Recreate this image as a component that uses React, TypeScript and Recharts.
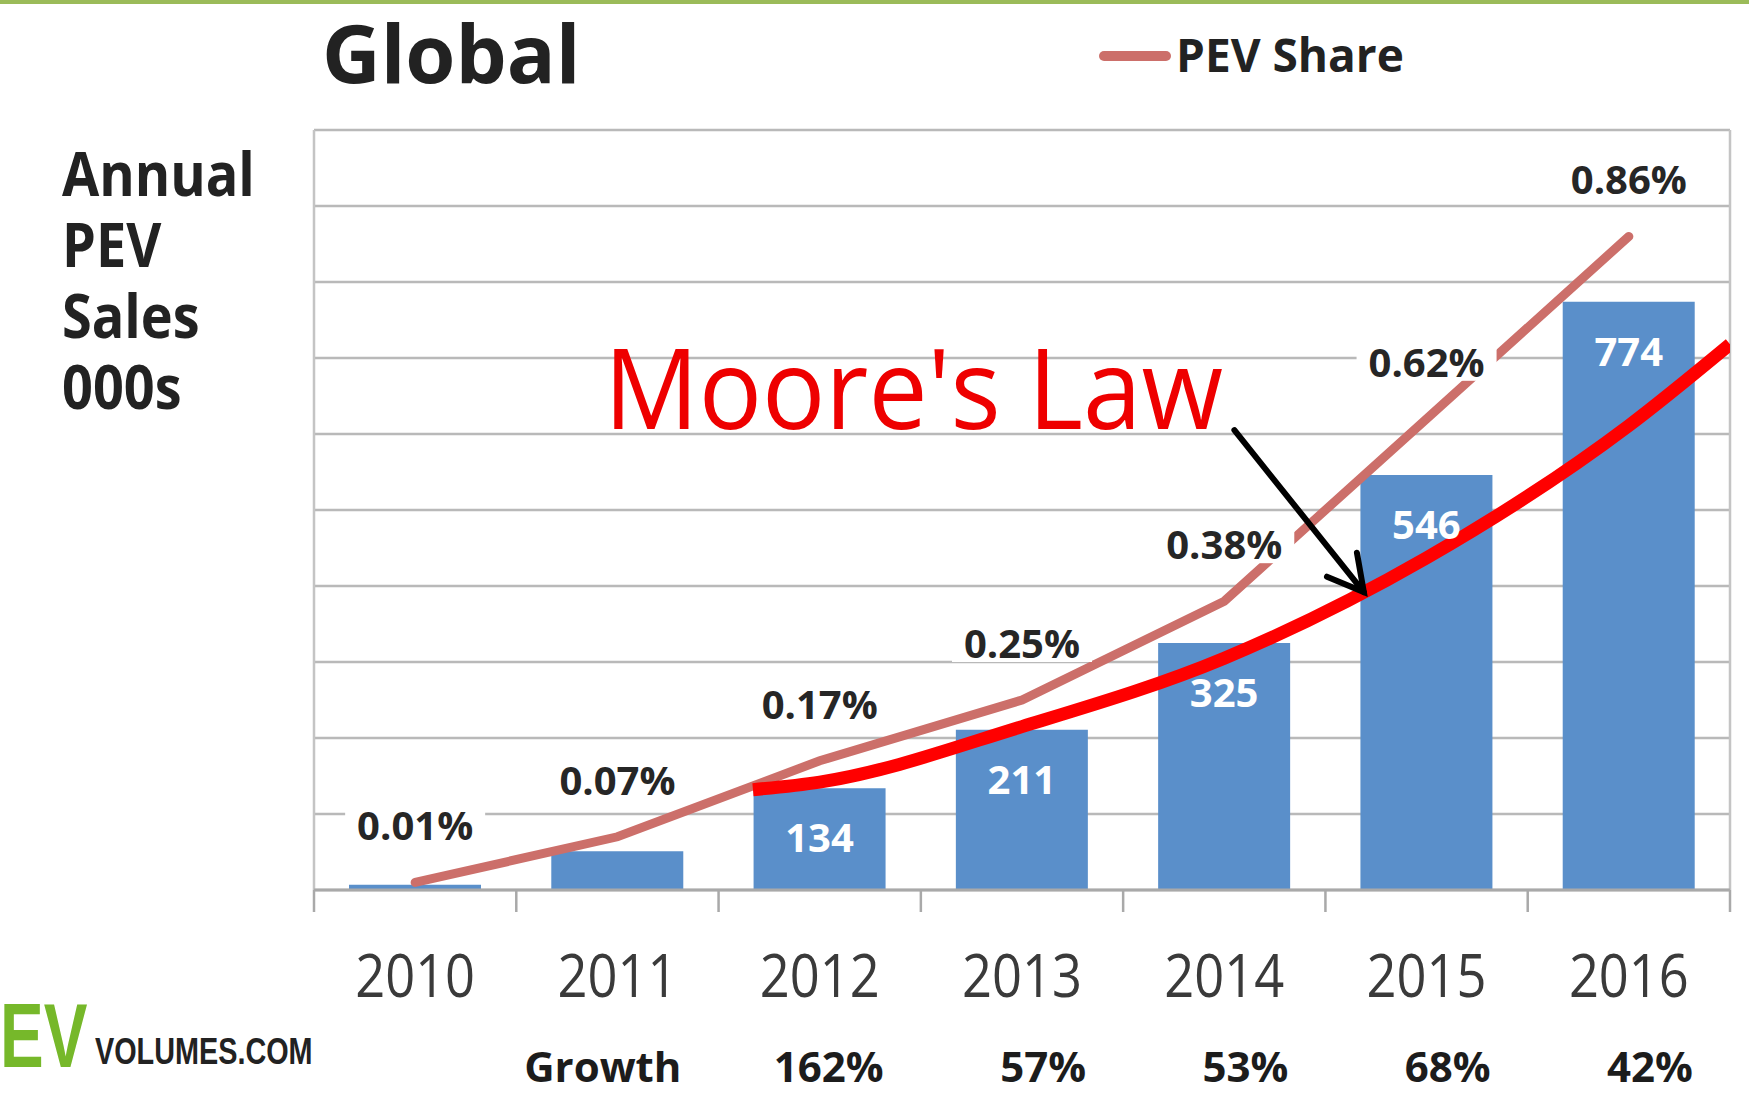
import React from "react"
import { Bar, CartesianGrid, ComposedChart, LabelList, Line, ReferenceLine, XAxis, YAxis } from "recharts"

const years = [2010, 2011, 2012, 2013, 2014, 2015, 2016]
const sales = [7, 51, 134, 211, 325, 546, 774]
const pevShare = [0.01, 0.07, 0.17, 0.25, 0.38, 0.62, 0.86]
const growthRow = ["", "Growth", "162%", "57%", "53%", "68%", "42%"]

const mooreYears = [2011.67, 2012, 2013, 2014, 2015, 2016, 2016.5]
const mooreSales = [132, 142, 215, 305, 437, 611, 718]

const salesTicks = [0, 100, 200, 300, 400, 500, 600, 700, 800, 900, 1000]
const yearEdges = [2009.5, 2010.5, 2011.5, 2012.5, 2013.5, 2014.5, 2015.5, 2016.5]
const axisTitle = ["Annual", "PEV", "Sales", "000s"]

const arrowFrom = { x: 2014.05, y: 605 }
const arrowTo = { x: 2014.69, y: 392 }

const data = years.map((year, i) => ({ year: String(year), sales: sales[i], share: pevShare[i] }))
const mooreData = mooreYears.map((x, i) => ({ x, moore: mooreSales[i] }))

const FONT = "'Open Sans', 'Noto Sans', sans-serif"
const BLUE = "#5a8fca"
const ROSE = "#cc6f6a"
const GRID = "#b9b9b9"

function NoTick() {
  return <g />
}

function YearTick(props: any) {
  const { x, y, payload } = props
  const i = years.indexOf(Number(payload.value))
  return (
    <g>
      <g transform={`translate(${x},${y + 85}) scale(0.86,1)`}>
        <text x={0} y={0} textAnchor="middle" fontSize={61} fill="#3a3a3a" fontFamily={FONT}>
          {payload.value}
        </text>
      </g>
      <text x={x + 64} y={y + 170} textAnchor="end" fontSize={42} fontWeight={700} fill="#1c1c1c" fontFamily={FONT}>
        {growthRow[i]}
      </text>
    </g>
  )
}

function ShareBox(props: any) {
  const { x, y } = props
  return <rect x={x - 70} y={y - 76} width={140} height={38} fill="#fff" />
}

function ShareLabel(props: any) {
  const { x, y, value } = props
  return (
    <text x={x} y={y - 42} textAnchor="middle" fontSize={40} fontWeight={700} fill="#262626" fontFamily={FONT}>
      {`${Number(value).toFixed(2)}%`}
    </text>
  )
}

function SalesLabel(props: any) {
  const { x, y, width, value } = props
  if (value < 100) return null
  return (
    <text x={x + width / 2} y={y + 64} textAnchor="middle" fontSize={40} fontWeight={700} fill="#fff" fontFamily={FONT}>
      {value}
    </text>
  )
}

function Arrow(props: any) {
  const { x1, y1, x2, y2 } = props
  const a = Math.atan2(y2 - y1, x2 - x1)
  const len = 40
  const spread = 0.5
  const p1 = [x2 - len * Math.cos(a - spread), y2 - len * Math.sin(a - spread)]
  const p2 = [x2 - len * Math.cos(a + spread), y2 - len * Math.sin(a + spread)]
  return (
    <g stroke="#000" strokeWidth={6} fill="none" strokeLinecap="round">
      <line x1={x1} y1={y1} x2={x2} y2={y2} />
      <polyline points={`${p1[0]},${p1[1]} ${x2},${y2} ${p2[0]},${p2[1]}`} strokeLinejoin="miter" />
    </g>
  )
}

export default function App() {
  return (
    <div style={{ position: "absolute", left: 0, top: 0, width: 1749, height: 1095, background: "#fff", overflow: "hidden" }}>
      <div style={{ position: "absolute", left: 0, top: 0, width: 1749, height: 4, background: "#9bbb59" }} />
      <ComposedChart width={1749} height={1095} data={data} margin={{ top: 130, right: 19, bottom: 0, left: 314 }}>
        <CartesianGrid yAxisId="sales" xAxisId="bound" vertical={false} stroke={GRID} strokeWidth={2.5} />
        <XAxis
          xAxisId="bound"
          dataKey="x"
          type="number"
          domain={[2009.5, 2016.5]}
          allowDataOverflow
          ticks={yearEdges}
          interval={0}
          tick={NoTick}
          height={22}
          tickSize={22}
          axisLine={{ stroke: "#a9a9a9", strokeWidth: 3 }}
          tickLine={{ stroke: "#a9a9a9", strokeWidth: 2.5 }}
        />
        <XAxis
          xAxisId="cat"
          dataKey="year"
          height={183}
          axisLine={false}
          tickLine={false}
          tickSize={0}
          tickMargin={0}
          interval={0}
          tick={<YearTick />}
        />
        <YAxis
          yAxisId="sales"
          domain={[0, 1000]}
          ticks={salesTicks}
          interval={0}
          width={0}
          tick={NoTick}
          axisLine={false}
          tickLine={false}
        />
        <YAxis yAxisId="share" orientation="right" domain={[0, 1]} width={0} tick={NoTick} axisLine={false} tickLine={false} />
        <ReferenceLine xAxisId="bound" yAxisId="sales" x={2009.5} stroke="#c4c4c4" strokeWidth={2.5} />
        <ReferenceLine xAxisId="bound" yAxisId="sales" x={2016.5} stroke="#c4c4c4" strokeWidth={2.5} />
        <Bar xAxisId="cat" yAxisId="sales" dataKey="sales" fill={BLUE} barSize={132} isAnimationActive={false}>
          <LabelList dataKey="sales" content={<SalesLabel />} />
        </Bar>
        <Line
          xAxisId="cat"
          yAxisId="share"
          dataKey="share"
          stroke="none"
          dot={false}
          activeDot={false}
          legendType="none"
          isAnimationActive={false}
        >
          <LabelList dataKey="share" content={<ShareBox />} />
        </Line>
        <Line
          xAxisId="cat"
          yAxisId="share"
          dataKey="share"
          type="linear"
          stroke={ROSE}
          strokeWidth={9}
          strokeLinecap="round"
          dot={false}
          activeDot={false}
          isAnimationActive={false}
        >
          <LabelList dataKey="share" content={<ShareLabel />} />
        </Line>
        <Line
          xAxisId="bound"
          yAxisId="sales"
          data={mooreData}
          dataKey="moore"
          type="monotone"
          stroke="#ff0000"
          strokeWidth={13}
          dot={false}
          activeDot={false}
          isAnimationActive={false}
        />
        <ReferenceLine xAxisId="bound" yAxisId="sales" segment={[arrowFrom, arrowTo]} shape={<Arrow />} />
      </ComposedChart>

      <div style={{ position: "absolute", left: 322, top: 4, fontFamily: FONT, fontWeight: 700, fontSize: 81, lineHeight: "96px", color: "#222" }}>
        Global
      </div>

      <div style={{ position: "absolute", left: 1099, top: 51, width: 72, height: 10, borderRadius: 5, background: ROSE }} />
      <div style={{ position: "absolute", left: 1176, top: 31, fontFamily: FONT, fontWeight: 700, fontSize: 46, lineHeight: "46px", color: "#222" }}>
        PEV Share
      </div>

      {axisTitle.map((word, i) => (
        <div
          key={word}
          style={{
            position: "absolute",
            left: 62,
            top: 143 + i * 71,
            fontFamily: FONT,
            fontWeight: 700,
            fontSize: 60,
            lineHeight: "60px",
            color: "#222",
            transform: "scaleX(0.9)",
            transformOrigin: "left top",
          }}
        >
          {word}
        </div>
      ))}

      <div
        style={{
          position: "absolute",
          left: 604,
          top: 330,
          fontFamily: FONT,
          fontSize: 112,
          lineHeight: "112px",
          color: "#ee0000",
          whiteSpace: "nowrap",
          transform: "scaleX(0.94)",
          transformOrigin: "left top",
        }}
      >
        Moore's Law
      </div>

      <div
        style={{
          position: "absolute",
          left: 0,
          top: 990,
          fontFamily: "'Liberation Sans', Arial, sans-serif",
          fontWeight: 700,
          fontSize: 91,
          lineHeight: "91px",
          color: "#76b82a",
          transform: "scaleX(0.72)",
          transformOrigin: "left top",
        }}
      >
        EV
      </div>
      <div
        style={{
          position: "absolute",
          left: 95,
          top: 1034,
          fontFamily: "'Liberation Sans', Arial, sans-serif",
          fontWeight: 700,
          fontSize: 36,
          lineHeight: "36px",
          color: "#222",
          whiteSpace: "nowrap",
          transform: "scaleX(0.8)",
          transformOrigin: "left top",
        }}
      >
        VOLUMES.COM
      </div>
    </div>
  )
}
